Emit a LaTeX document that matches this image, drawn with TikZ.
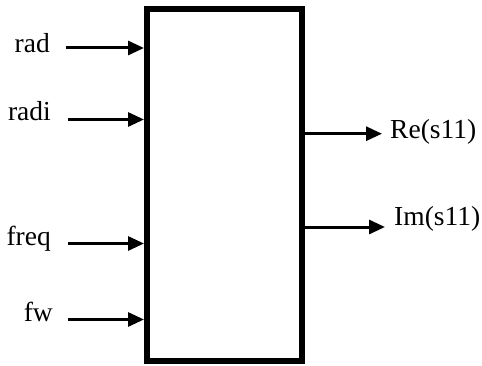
\documentclass[tikz,border=0pt]{standalone}
\usepackage{fontspec}
\setmainfont{Liberation Serif}
\usetikzlibrary{arrows.meta}
\begin{document}
\begin{tikzpicture}[x=1pt,y=1pt,
  blockbox/.style={draw, line width=6pt, inner sep=0pt, minimum width=155pt, minimum height=352pt},
  lbl/.style={inner sep=0pt, font=\fontsize{27.5}{32}\selectfont},
  arr/.style={line width=3pt, -{Triangle[length=16pt,width=14pt]}}]
\useasboundingbox (0,0) rectangle (482,365);
\node[blockbox] (box) at (224.5,180) {};
% input labels
\node[lbl, anchor=base east] (rad) at (50,312.3) {rad};
\node[lbl, anchor=base east] (radi) at (51,244) {radi};
\node[lbl, anchor=base east] (freq) at (51,120) {freq};
\node[lbl, anchor=base east] (fw) at (53,43.3) {fw};
% output labels
\node[lbl, anchor=base west] (re) at (390,227) {Re(s11)};
\node[lbl, anchor=base west] (im) at (394,140) {Im(s11)};
% arrow start/end coordinates
\coordinate (s1) at (66,317);
\coordinate (s2) at (68,245.5);
\coordinate (s3) at (68,121.5);
\coordinate (s4) at (68,45.5);
\coordinate (e1) at (382,231.3);
\coordinate (e2) at (385,138);
\draw[arr] (s1) -- (box.west |- s1);
\draw[arr] (s2) -- (box.west |- s2);
\draw[arr] (s3) -- (box.west |- s3);
\draw[arr] (s4) -- (box.west |- s4);
\draw[arr] (box.east |- e1) -- (e1);
\draw[arr] (box.east |- e2) -- (e2);
\end{tikzpicture}
\end{document}
